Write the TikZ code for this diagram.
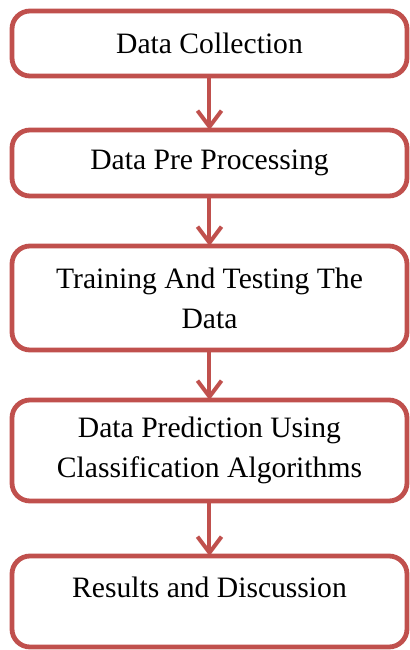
\documentclass[tikz,border=0pt]{standalone}
\usepackage{fontspec}
\setmainfont{Liberation Serif}
\usetikzlibrary{arrows.meta,positioning}
\definecolor{boxred}{HTML}{C0504D}

\begin{document}
\begin{tikzpicture}[
  x=0.5pt, y=0.5pt,
  >={Straight Barb[length=8pt, width=12pt]},
  box/.style={draw=boxred, line width=2.4pt, rounded corners=9pt, align=center,
    font=\fontsize{14.8pt}{20pt}\selectfont, minimum width=197.5pt, outer sep=0pt, inner sep=2pt},
  arrow/.style={->, draw=boxred, line width=2pt}
]
\useasboundingbox (0,0) rectangle (409,-650);
\node[box, minimum height=32.5pt] (collect) at (209.5,-43.5) {Data Collection};
\node[box, minimum height=33pt, below=27pt of collect] (prep) {Data Pre Processing};
\node[box, minimum height=52pt, below=25pt of prep] (train) {Training And Testing The\\Data};
\node[box, minimum height=50.5pt, below=25pt of train] (predict) {Data Prediction Using\\Classification Algorithms};
\node[box, minimum height=45.5pt, text depth=14pt, below=27.5pt of predict] (result) {Results and Discussion};
\draw[arrow] (collect.south) -- (prep.north);
\draw[arrow] (prep.south) -- (train.north);
\draw[arrow] (train.south) -- (predict.north);
\draw[arrow] (predict.south) -- (result.north);
\end{tikzpicture}
\end{document}
